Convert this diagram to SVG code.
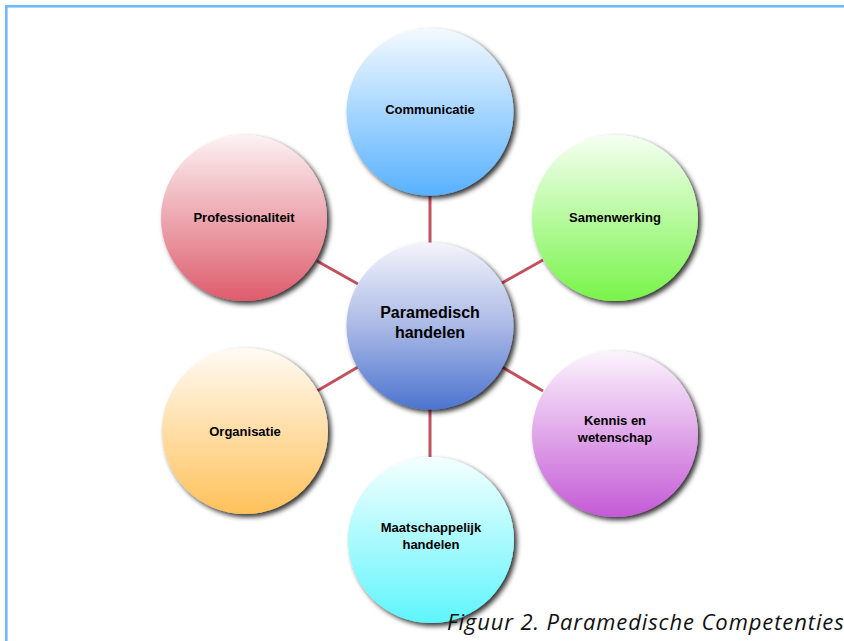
<svg xmlns="http://www.w3.org/2000/svg" width="844" height="641" viewBox="0 0 844 641">
<style>
.lbl{font-family:"Liberation Sans",Arial,sans-serif;font-weight:bold;font-size:13px;fill:#000;text-anchor:middle}
.big{font-size:16px}
.con{stroke:#c4505c;stroke-width:3;fill:none}
.cap{font-family:"Open Sans","Noto Sans",sans-serif;font-style:italic;font-size:22px;letter-spacing:0.9px;fill:#111}
</style>
<defs>
<filter id="sh" x="-20%" y="-20%" width="150%" height="150%">
<feDropShadow dx="3" dy="3" stdDeviation="2.5" flood-color="#000" flood-opacity="0.8"/>
</filter>
<linearGradient id="gC" x1="0" y1="0" x2="0" y2="1"><stop offset="0" stop-color="#f4f4fb"/><stop offset="0.5" stop-color="#aab9e6"/><stop offset="1" stop-color="#4c74cf"/></linearGradient>
<linearGradient id="g1" x1="0" y1="0" x2="0" y2="1"><stop offset="0" stop-color="#f4faff"/><stop offset="1" stop-color="#58b1ff"/></linearGradient>
<linearGradient id="g2" x1="0" y1="0" x2="0" y2="1"><stop offset="0" stop-color="#f6fff2"/><stop offset="1" stop-color="#78f44a"/></linearGradient>
<linearGradient id="g3" x1="0" y1="0" x2="0" y2="1"><stop offset="0" stop-color="#fcf4fd"/><stop offset="1" stop-color="#c45ad6"/></linearGradient>
<linearGradient id="g4" x1="0" y1="0" x2="0" y2="1"><stop offset="0" stop-color="#f4ffff"/><stop offset="1" stop-color="#5ff5fc"/></linearGradient>
<linearGradient id="g5" x1="0" y1="0" x2="0" y2="1"><stop offset="0" stop-color="#fffbf4"/><stop offset="1" stop-color="#ffc15a"/></linearGradient>
<linearGradient id="g6" x1="0" y1="0" x2="0" y2="1"><stop offset="0" stop-color="#fcf2f4"/><stop offset="1" stop-color="#de5c6c"/></linearGradient>
</defs>
<rect width="844" height="641" fill="#fff"/>
<rect x="6.3" y="6.3" width="900" height="700" fill="none" stroke="#70b9ff" stroke-width="2.6"/>
<g id="connectors">
<line class="con" x1="430" y1="196" x2="430" y2="243"/>
<line class="con" x1="502" y1="283" x2="543" y2="260"/>
<line class="con" x1="502" y1="367" x2="543" y2="391"/>
<line class="con" x1="430" y1="409" x2="430" y2="457"/>
<line class="con" x1="358" y1="367" x2="317" y2="391"/>
<line class="con" x1="358" y1="284" x2="317" y2="261"/>
</g>
<g id="center"><circle cx="430" cy="326" r="83.5" fill="url(#gC)" filter="url(#sh)"/><text class="lbl big" x="430" y="318">Paramedisch</text><text class="lbl big" x="430" y="338">handelen</text></g>
<g id="communicatie"><circle cx="430" cy="112" r="83.5" fill="url(#g1)" filter="url(#sh)"/><text class="lbl" x="430" y="114">Communicatie</text></g>
<g id="samenwerking"><circle cx="615" cy="218" r="83" fill="url(#g2)" filter="url(#sh)"/><text class="lbl" x="615" y="222">Samenwerking</text></g>
<g id="kennis"><circle cx="615" cy="434" r="83" fill="url(#g3)" filter="url(#sh)"/><text class="lbl" x="615" y="425">Kennis en</text><text class="lbl" x="615" y="442">wetenschap</text></g>
<g id="maatschappelijk"><circle cx="431" cy="540" r="83" fill="url(#g4)" filter="url(#sh)"/><text class="lbl" x="431" y="532">Maatschappelijk</text><text class="lbl" x="431" y="549">handelen</text></g>
<g id="organisatie"><circle cx="245" cy="431" r="83" fill="url(#g5)" filter="url(#sh)"/><text class="lbl" x="245" y="436">Organisatie</text></g>
<g id="professionaliteit"><circle cx="244" cy="218" r="83" fill="url(#g6)" filter="url(#sh)"/><text class="lbl" x="244" y="222">Professionaliteit</text></g>
<text class="cap" x="447" y="630">Figuur 2. Paramedische Competenties.</text>
</svg>
